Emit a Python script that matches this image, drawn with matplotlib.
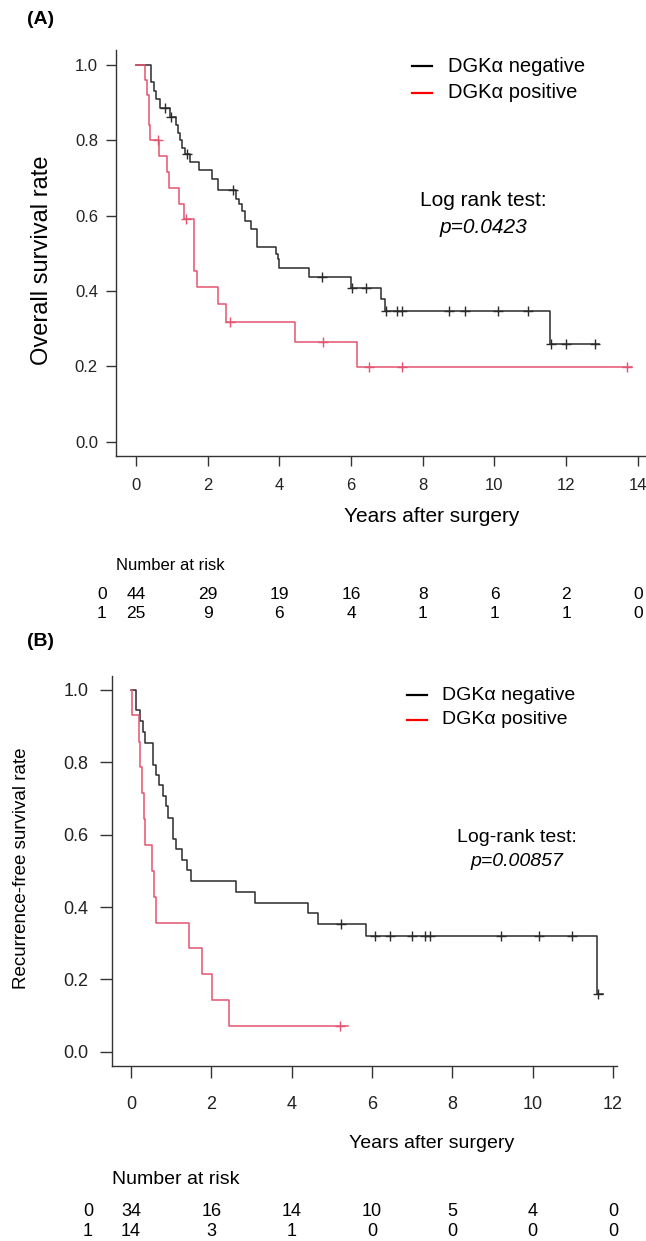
import numpy as np
import matplotlib
matplotlib.use('Agg')
import matplotlib.pyplot as plt
from matplotlib.transforms import blended_transform_factory

plt.rcParams['font.family'] = ['Liberation Sans', 'DejaVu Sans']

W, H = 646, 1241

# ---- (A) overall survival: KM step points
os_neg_t = [0.41, 0.50, 0.57, 0.67, 0.94, 1.12, 1.17, 1.23, 1.29, 1.37, 1.52, 1.76, 2.13, 2.29,
            2.78, 2.87, 2.97, 3.03, 3.20, 3.38, 3.90, 3.96, 3.99, 4.83, 6.01, 6.83, 6.95, 11.55]
os_neg_s = [0.955, 0.932, 0.909, 0.886, 0.862, 0.842, 0.820, 0.800, 0.780, 0.764, 0.742, 0.720, 0.698, 0.667,
            0.644, 0.631, 0.613, 0.587, 0.564, 0.516, 0.498, 0.484, 0.462, 0.436, 0.409, 0.379, 0.348, 0.258]
os_neg_cens = [0.80, 0.97, 1.41, 2.72, 5.18, 6.03, 6.41, 6.97, 7.29, 7.41, 8.73, 9.18, 10.10, 10.94,
               11.59, 11.99, 12.81]
os_neg_end = 12.92

os_pos_t = [0.25, 0.31, 0.35, 0.36, 0.38, 0.64, 0.87, 0.92, 1.20, 1.34, 1.62, 1.71, 2.28, 2.52, 4.44, 6.17]
os_pos_s = [0.96, 0.92, 0.88, 0.84, 0.80, 0.758, 0.716, 0.674, 0.632, 0.590, 0.453, 0.411, 0.365, 0.319,
            0.265, 0.199]
os_pos_cens = [0.62, 1.39, 2.62, 5.21, 6.50, 7.41, 13.69]
os_pos_end = 13.85

os_ticks = [0, 2, 4, 6, 8, 10, 12, 14]
os_risk_neg = [44, 29, 19, 16, 8, 6, 2, 0]
os_risk_pos = [25, 9, 6, 4, 1, 1, 1, 0]

# ---- (B) recurrence-free survival
rfs_neg_t = [0.12, 0.23, 0.30, 0.36, 0.55, 0.61, 0.69, 0.80, 0.86, 0.92, 1.05, 1.13, 1.27, 1.40, 1.50,
             2.61, 3.09, 4.41, 4.66, 5.85, 11.59]
rfs_neg_s = [0.944, 0.914, 0.883, 0.854, 0.794, 0.766, 0.736, 0.707, 0.678, 0.645, 0.587, 0.559, 0.530,
             0.502, 0.472, 0.441, 0.412, 0.383, 0.353, 0.320, 0.160]
rfs_neg_cens = [5.22, 6.08, 6.44, 7.00, 7.33, 7.45, 9.22, 10.15, 10.98, 11.63]
rfs_neg_end = 11.75

rfs_pos_t = [0.03, 0.20, 0.23, 0.28, 0.32, 0.36, 0.51, 0.56, 0.62, 1.45, 1.76, 2.01, 2.45]
rfs_pos_s = [0.930, 0.857, 0.786, 0.714, 0.643, 0.571, 0.500, 0.428, 0.357, 0.286, 0.214, 0.143, 0.071]
rfs_pos_cens = [5.20]
rfs_pos_end = 5.39

rfs_ticks = [0, 2, 4, 6, 8, 10, 12]
rfs_risk_neg = [34, 16, 14, 10, 5, 4, 0]
rfs_risk_pos = [14, 3, 1, 0, 0, 0, 0]

BLACK = '#2b2b2b'
RED = '#e4536f'


def px_ax(fig, left, top, right, bottom):
    return fig.add_axes([left / W, 1 - bottom / H, (right - left) / W, (bottom - top) / H])


def km(ax, t, s, cens, end, color):
    tt = [0] + list(t) + [end]
    ss = [1.0] + list(s) + [s[-1]]
    ax.step(tt, ss, where='post', color=color, lw=1.1)
    cs = [ss[np.searchsorted(tt, c, side='right') - 1] for c in cens]
    ax.plot(cens, cs, ls='none', marker='+', ms=7, mew=1.0, color=color)


def style(ax, fs, ln, xpad, ypad):
    for side in ['top', 'right']:
        ax.spines[side].set_visible(False)
    for side in ['left', 'bottom']:
        ax.spines[side].set_color('#333333')
        ax.spines[side].set_linewidth(1.0)
    ax.tick_params(axis='both', direction='out', length=ln, width=1.0, color='#333333',
                   labelsize=fs, labelcolor='#222222')
    ax.tick_params(axis='x', pad=xpad)
    ax.tick_params(axis='y', pad=ypad)
    ax.set_yticks([0, 0.2, 0.4, 0.6, 0.8, 1.0])
    ax.set_yticklabels(['0.0', '0.2', '0.4', '0.6', '0.8', '1.0'])


fig = plt.figure(figsize=(W / 100, H / 100), dpi=100)

# ================= panel A
axA = px_ax(fig, 116, 50, 645, 456)
km(axA, os_neg_t, os_neg_s, os_neg_cens, os_neg_end, BLACK)
km(axA, os_pos_t, os_pos_s, os_pos_cens, os_pos_end, RED)
axA.set_xlim(-0.558, 14.2)
axA.set_ylim(-0.038, 1.0398)
axA.set_xticks(os_ticks)
style(axA, 12, 7, 9, 6)

fig.text(27 / W, 1 - 20 / H, '(A)', fontsize=14, fontweight='bold', va='center', ha='left')
fig.text(42 / W, 1 - 260 / H, 'Overall survival rate', fontsize=17, rotation=90, va='center', ha='center')
fig.text(432 / W, 1 - 517 / H, 'Years after surgery', fontsize=15, va='center', ha='center')

# legend
for i, (lab, c) in enumerate([('DGK\u03b1 negative', 'black'), ('DGK\u03b1 positive', 'red')]):
    y = 1 - (66 + i * 26.7) / H
    fig.add_artist(plt.Line2D([411.7 / W, 431.7 / W], [y, y], color=c, lw=1.6))
    fig.text(448 / W, y, lab, fontsize=14.5, va='center', ha='left')

fig.text(483 / W, 1 - 201 / H, 'Log rank test:', fontsize=15, va='center', ha='center')
fig.text(483 / W, 1 - 227 / H, 'p=0.0423', fontsize=15, style='italic', va='center', ha='center')

trA = blended_transform_factory(axA.transData, fig.transFigure)
fig.text(116 / W, 1 - 565 / H, 'Number at risk', fontsize=12, va='center', ha='left')
for row, (g, vals) in enumerate([('0', os_risk_neg), ('1', os_risk_pos)]):
    y = 1 - (595 + row * 19) / H
    fig.text(102 / W, y, g, fontsize=12.5, va='center', ha='center')
    for xt, v in zip(os_ticks, vals):
        axA.text(xt, y, str(v), transform=trA, fontsize=12.5, va='center', ha='center')

# ================= panel B
axB = px_ax(fig, 112.3, 676, 616.7, 1066)
km(axB, rfs_neg_t, rfs_neg_s, rfs_neg_cens, rfs_neg_end, BLACK)
km(axB, rfs_pos_t, rfs_pos_s, rfs_pos_cens, rfs_pos_end, RED)
axB.set_xlim(-0.466, 12.09)
axB.set_ylim(-0.0396, 1.0387)
axB.set_xticks(rfs_ticks)
style(axB, 13, 8.5, 13, 8.5)

fig.text(27 / W, 1 - 642 / H, '(B)', fontsize=14, fontweight='bold', va='center', ha='left')
fig.text(22 / W, 1 - 868 / H, 'Recurrence-free survival rate', fontsize=13.5, rotation=90,
         va='center', ha='center')
fig.text(432 / W, 1 - 1143 / H, 'Years after surgery', fontsize=14, va='center', ha='center')

for i, (lab, c) in enumerate([('DGK\u03b1 negative', 'black'), ('DGK\u03b1 positive', 'red')]):
    y = 1 - (695 + i * 25) / H
    fig.add_artist(plt.Line2D([406.7 / W, 426.7 / W], [y, y], color=c, lw=1.6))
    fig.text(441.7 / W, y, lab, fontsize=14, va='center', ha='left')

fig.text(517 / W, 1 - 837 / H, 'Log-rank test:', fontsize=14, va='center', ha='center')
fig.text(517 / W, 1 - 862 / H, 'p=0.00857', fontsize=14, style='italic', va='center', ha='center')

trB = blended_transform_factory(axB.transData, fig.transFigure)
fig.text(112 / W, 1 - 1180 / H, 'Number at risk', fontsize=14, va='center', ha='left')
for row, (g, vals) in enumerate([('0', rfs_risk_neg), ('1', rfs_risk_pos)]):
    y = 1 - (1212 + row * 20) / H
    fig.text(88 / W, y, g, fontsize=13, va='center', ha='center')
    for xt, v in zip(rfs_ticks, vals):
        axB.text(xt, y, str(v), transform=trB, fontsize=13, va='center', ha='center')

fig.savefig('out.png', dpi=100)
